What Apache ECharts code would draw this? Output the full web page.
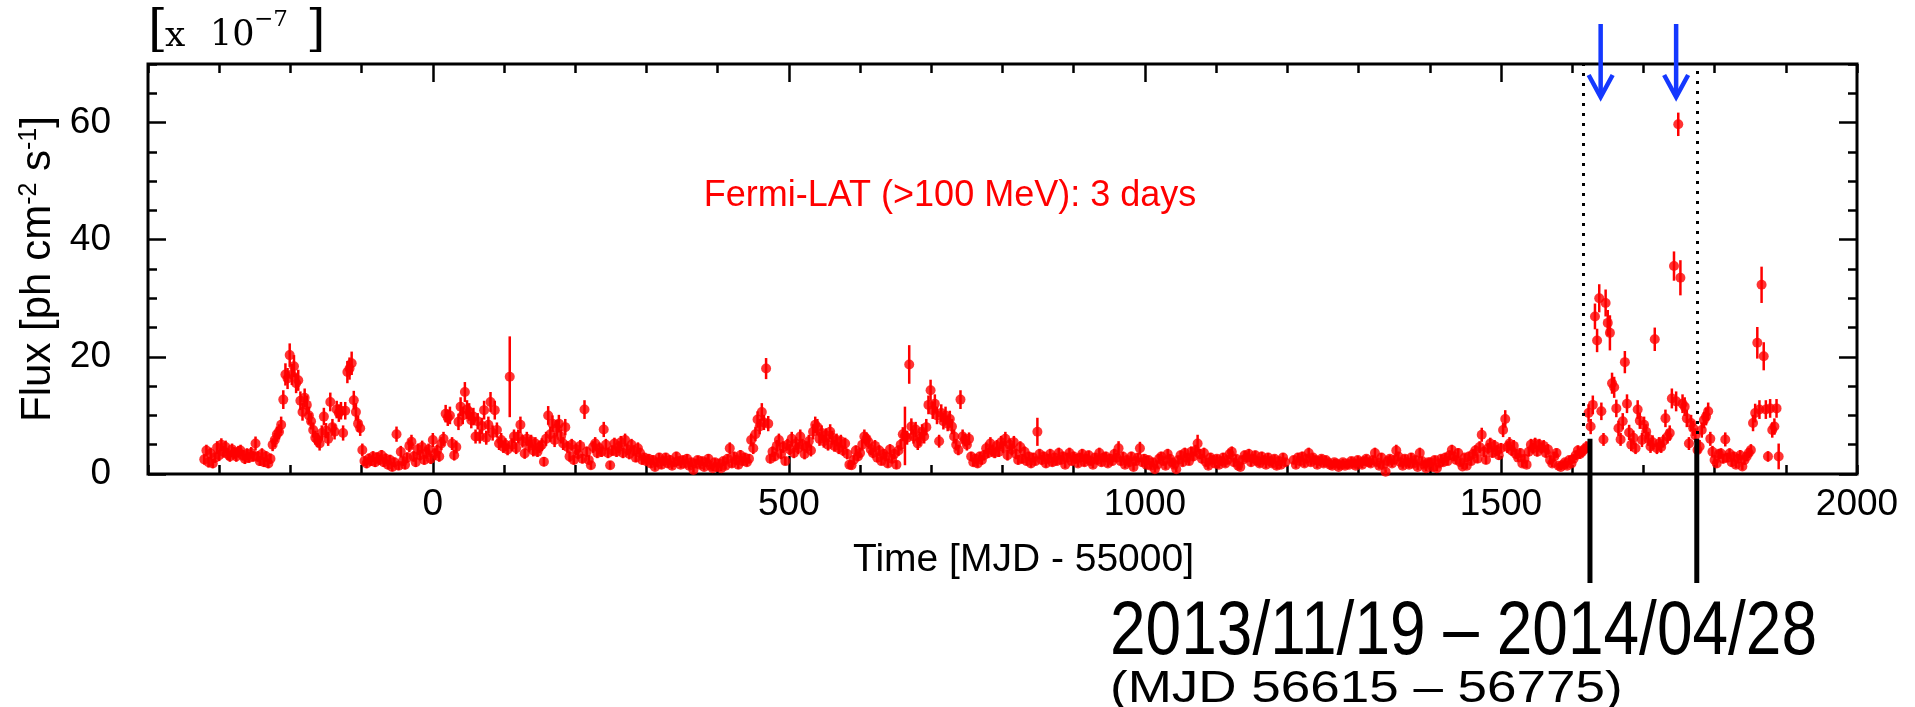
<!DOCTYPE html>
<html>
<head>
<meta charset="utf-8">
<title>Fermi-LAT (&gt;100 MeV) light curve, 3-day bins</title>
<script src="https://cdn.jsdelivr.net/npm/echarts@6.0.0/dist/echarts.min.js"></script>
<style>
html,body{margin:0;padding:0;background:#ffffff;}
#chart{width:1915px;height:707px;}
</style>
</head>
<body>
<div id="chart"></div>
<script>
// Time in MJD - 55000, flux in units of 1e-7 ph cm^-2 s^-1 (3-day bins)
const timeA = [-321,-318,-315,-312,-309,-306,-303,-300,-297,-294,-291,-288,-285,-282,-279,-276,-273,-270,-267,-264,-261,-258,-255,-252,-249,-246,-243,-240,-237,-234,-231,-228,-225,-222,-219,-216,-213,-210,-207,-204,-201,-198,-195,-192,-189,-186,-183,-180,-177,-174,-171,-168,-165,-162,-159,-156,-153,-150,-147,-144,-141,-138,-135,-132,-129,-126,-123,-120,-117,-114,-111,-108,-105,-102,-99];
const fluxA = [2.5,4.0,2.0,3.5,1.8,2.8,4.5,3.2,5.0,3.8, 4.6,3.4,3.0,4.2,3.6,3.0,3.8,4.0,3.2,2.6, 3.4,2.8,3.6,3.0,5.2,3.0,2.2,3.4,2.0,3.0, 1.8,2.6,5.0,5.8,6.8,7.2,8.4,12.7,17.0,16.3, 20.3,17.0,18.4,15.5,16.0,12.5,10.6,13.0,11.8,10.0, 9.0,7.5,6.2,5.8,5.2,7.0,9.8,7.4,6.0,12.3, 8.0,7.2,11.0,10.4,10.8,7.0,10.8,17.4,18.0,18.9, 12.6,10.6,8.6,7.8,4.1];
const errA = [0.9,1.0,0.9,1.0,0.8,0.9,1.1,1.0,1.1,1.0, 1.1,1.0,0.9,1.0,1.0,0.9,1.0,1.0,0.9,0.9, 1.0,0.9,1.0,0.9,1.2,0.9,0.8,1.0,0.8,0.9, 0.8,0.9,1.1,1.2,1.3,1.3,1.4,1.6,1.9,1.8, 2.0,1.8,1.9,1.7,1.8,1.6,1.5,1.6,1.6,1.5, 1.4,1.3,1.2,1.2,1.2,1.3,1.5,1.3,1.2,1.6, 1.4,1.3,1.5,1.5,1.5,1.3,1.5,1.9,1.9,2.0, 1.6,1.5,1.4,1.3,1.1];

const timeB = [-96,-93,-90,-87,-84,-81,-78,-75,-72,-69,-66,-63,-60,-57,-54,-51,-48,-45,-42,-39,-36,-33,-30,-27,-24,-21,-18,-15,-12,-9,-6,-3,0,3,6,9,12,15,18,21,24,27,30,33,36,39,42,45,48,51,54,57,60,63,66,69,72,75,78,81,84,87,90,93,96,99,102,105,108,111,114,117,120,123,126,129,132,135,138,141,144,147,150,153,156,159,162,165,168,171,174,177,180,183,186,189,192,195,198];
const fluxB = [2.2,1.8,2.6,2.2,3.0,2.0,2.8,2.4,3.2,2.0, 2.6,1.6,2.4,1.2,2.0,6.8,1.4,3.8,2.2,1.6, 2.8,4.8,5.5,3.0,2.0,4.2,3.2,4.6,2.4,3.6, 4.2,2.6,5.8,3.4,4.0,3.0,5.2,6.0,10.3,9.6, 10.0,5.2,3.2,4.6,8.9,11.5,10.0,14.0,11.0,10.6, 9.2,9.8,6.4,9.0,6.4,8.2,10.9,6.2,8.4,12.3, 7.0,10.9,7.5,5.2,5.8,4.6,5.0,4.2,16.6,5.0, 6.4,4.4,6.4,8.4,5.6,3.5,6.0,4.8,5.6,4.0, 5.2,3.8,4.6,5.0,2.1,6.0,10.0,6.8,8.6,5.8, 7.8,8.6,6.4,5.2,8.0,4.6,3.0,5.0,2.4];
const errB = [0.8,0.8,0.9,0.8,0.9,0.8,0.9,0.8,0.9,0.8, 0.9,0.8,0.9,0.7,0.8,1.3,0.7,1.0,0.8,0.8, 0.9,1.1,1.2,0.9,0.8,1.0,0.9,1.1,0.8,1.0, 1.0,0.9,1.2,1.0,1.0,0.9,1.1,1.2,1.5,1.4, 1.5,1.1,0.9,1.1,1.4,1.6,1.5,1.7,1.6,1.5, 1.4,1.5,1.2,1.4,1.2,1.4,1.6,1.2,1.4,1.7, 1.3,1.6,1.3,1.1,1.2,1.0,1.1,1.0,6.9,1.1, 1.2,1.0,1.2,1.4,1.1,0.9,1.2,1.1,1.1,1.0, 1.1,0.9,1.0,1.1,0.8,1.2,1.6,1.3,1.4,1.2, 1.4,1.5,1.2,1.1,1.4,1.0,0.9,1.0,0.8];

const timeC = [201,204,207,210,213,216,219,222,225,228,231,234,237,240,243,246,249,252,255,258,261,264,267,270,273,276,279,282,285,288,291,294,297,300,303,306,309,312,315,318,321,324,327,330,333,336,339,342,345,348,351,354,357,360,363,366,369,372,375,378,381,384,387,390,393,396,399,402,405,408,411,414,417,420,423,426,429,432,435,438,441,444,447,450,453,456,459,462,465,468,471,474,477,480,483,486,489,492,495,498];
const fluxC = [4.2,3.4,4.8,2.6,11.0,3.8,2.4,1.5,4.6,5.2, 3.6,4.4,3.8,7.6,5.0,3.6,1.5,4.0,5.2,3.8, 4.6,5.4,3.6,5.8,4.2,3.4,5.0,4.0,2.8,4.4, 3.6,2.4,2.8,2.2,2.6,1.8,2.4,1.2,2.0,2.8, 1.6,2.2,2.8,1.8,2.4,1.4,2.0,3.0,2.2,1.6, 2.4,1.8,2.6,1.4,2.0,0.7,1.8,2.4,1.6,2.2, 1.2,2.0,2.6,1.4,1.0,2.0,1.2,1.8,1.0,2.2, 1.4,2.6,4.4,1.8,3.0,2.4,1.6,3.2,2.2,2.8, 2.0,2.6,5.8,4.4,6.8,9.3,8.1,10.6,8.8,18.0, 8.6,2.6,3.8,3.0,4.8,5.8,3.4,4.6,2.2,5.0];
const errC = [1.0,0.9,1.0,0.8,1.6,0.9,0.8,0.7,1.0,1.1, 0.9,1.0,0.9,1.3,1.0,0.9,0.7,0.9,1.0,0.9, 1.0,1.1,0.9,1.1,1.0,0.9,1.0,0.9,0.8,1.0, 0.9,0.8,0.8,0.7,0.8,0.7,0.8,0.6,0.7,0.8, 0.7,0.7,0.8,0.7,0.8,0.6,0.7,0.8,0.7,0.6, 0.7,0.6,0.8,0.6,0.7,0.5,0.7,0.7,0.6,0.7, 0.6,0.7,0.8,0.6,0.5,0.7,0.6,0.7,0.5,0.7, 0.6,0.8,1.0,0.7,0.8,0.8,0.7,0.9,0.7,0.8, 0.7,0.8,1.1,1.0,1.2,1.4,1.3,1.5,1.3,1.8, 1.3,0.8,0.9,0.8,1.0,1.1,0.9,1.0,0.7,1.0];

const timeD = [501,504,507,510,513,516,519,522,525,528,531,534,537,540,543,546,549,552,555,558,561,564,567,570,573,576,579,582,585,588,591,594,597,600,603,606,609,612,615,618,621,624,627,630,633,636,639,642,645,648,651,654,657,660,663,666,669,672,675,678,681,684,687,690,693,696,699,702,705,708,711,714,717,720,723,726,729,732,735,738,741,744,747,750,753,756,759,762,765,768,771,774,777,780,783,786,789,792,795,798];
const fluxD = [4.2,6.0,3.6,5.2,4.4,6.4,5.0,3.4,4.6,5.6, 4.0,7.2,8.4,8.0,6.0,7.0,5.6,6.6,5.0,7.2, 6.2,4.8,5.8,4.4,5.6,4.0,5.2,3.4,1.6,1.5, 2.4,4.0,3.0,3.6,5.0,6.4,6.0,5.4,4.2,3.6, 4.8,2.8,4.0,2.2,3.4,3.0,1.8,4.2,2.6,3.4, 1.6,4.0,5.0,6.8,6.5,6.2,18.7,8.1,6.4,7.6, 5.2,6.0,7.2,6.4,8.0,11.8,14.3,10.9,12.0,10.0, 5.6,10.4,9.0,10.0,8.6,9.4,8.1,6.4,5.0,4.1, 12.7,6.4,5.8,5.0,6.0,3.0,2.0,2.6,1.8,3.0, 2.4,3.2,4.4,3.6,5.2,4.0,3.6,4.8,3.8,5.4];
const errD = [1.0,1.2,0.9,1.1,1.0,1.2,1.0,0.9,1.0,1.1, 1.0,1.3,1.4,1.4,1.2,1.3,1.1,1.2,1.0,1.3, 1.2,1.0,1.1,1.0,1.1,0.9,1.0,0.9,0.7,0.7, 0.8,0.9,0.8,0.9,1.0,1.2,1.1,1.1,1.0,0.9, 1.0,0.8,0.9,0.7,0.9,0.8,0.7,0.9,0.8,0.9, 0.7,0.9,1.0,1.2,5.0,1.2,3.3,1.4,1.2,1.3, 1.1,1.2,1.3,1.2,1.4,1.6,1.8,1.5,1.6,1.5, 1.1,1.5,1.4,1.5,1.3,1.4,1.3,1.2,1.0,0.9, 1.6,1.2,1.1,1.0,1.1,0.8,0.7,0.8,0.7,0.8, 0.8,0.9,1.0,0.9,1.1,1.0,0.9,1.0,0.9,1.1];

const timeE = [801,804,807,810,813,816,819,822,825,828,831,834,837,840,843,846,849,852,855,858,861,864,867,870,873,876,879,882,885,888,891,894,897,900,903,906,909,912,915,918,921,924,927,930,933,936,939,942,945,948,951,954,957,960,963,966,969,972,975,978,981,984,987,990,993,996,999,1002,1005,1008,1011,1014,1017,1020,1023,1026,1029,1032,1035,1038,1041,1044,1047,1050,1053,1056,1059,1062,1065,1068,1071,1074,1077,1080,1083,1086,1089,1092,1095,1098];
const fluxE = [4.6,6.0,3.2,5.0,4.2,5.4,3.4,2.4,4.6,2.6, 3.8,2.2,3.0,1.8,2.8,2.2,7.2,3.4,2.4,3.0, 1.8,2.6,3.4,2.0,2.8,2.2,3.6,2.4,3.0,1.6, 2.8,3.6,2.2,3.0,2.6,1.8,2.8,3.4,2.0,2.6, 3.2,2.2,1.6,2.8,2.4,3.6,2.0,2.8,3.0,1.8, 2.6,2.2,3.4,2.8,4.4,2.2,3.0,1.6,2.4,2.0, 3.0,1.2,2.2,2.8,4.4,2.0,2.6,1.6,2.4,1.4, 2.0,0.8,1.6,2.6,3.0,2.2,1.4,3.4,2.6,2.0, 1.6,0.8,2.4,3.2,2.0,3.6,2.8,2.2,3.8,3.0, 4.0,5.2,3.4,2.6,3.6,2.0,1.4,2.8,2.4,1.8];
const errE = [1.0,1.2,0.9,1.1,1.0,1.1,0.9,0.8,1.0,0.8, 0.9,0.7,0.8,0.7,0.8,0.7,2.4,0.9,0.8,0.8, 0.7,0.8,0.9,0.7,0.8,0.7,0.9,0.7,0.8,0.6, 0.8,0.9,0.7,0.8,0.8,0.6,0.8,0.9,0.7,0.8, 0.8,0.7,0.6,0.8,0.7,0.9,0.7,0.8,0.8,0.6, 0.8,0.7,0.9,0.8,1.2,0.7,0.8,0.6,0.7,0.7, 0.8,0.6,0.7,0.8,1.1,0.7,0.8,0.6,0.7,0.6, 0.7,0.5,0.6,0.8,0.8,0.7,0.6,0.9,0.8,0.7, 0.6,0.5,0.7,0.8,0.7,0.9,0.8,0.7,0.9,0.8, 1.0,1.5,0.9,0.8,0.9,0.7,0.6,0.8,0.7,0.7];

const timeF1 = [1101,1104,1107,1110,1113,1116,1119,1122,1125,1128,1131,1134,1137,1140,1143,1146,1149,1152,1155,1158,1161,1164,1167,1170,1173,1176,1179,1182,1185,1188,1191,1194,1197];
const fluxF1 = [2.6,1.6,2.2,2.8,1.8,2.4,3.4,3.8,2.0,2.6, 1.4,1.2,2.4,3.2,2.8,3.4,2.0,2.6,3.2,2.2, 1.8,3.0,2.4,1.6,2.8,2.2,1.8,2.6,1.4,2.2, 1.6,2.8,2.0];
const errF1 = [0.7,0.6,0.7,0.8,0.6,0.7,0.9,0.9,0.7,0.7, 0.6,0.5,0.7,0.8,0.8,0.9,0.7,0.7,0.8,0.7, 0.6,0.8,0.7,0.6,0.8,0.7,0.6,0.7,0.6,0.7, 0.6,0.8,0.7];

const timeF2 = [1209,1212,1215,1218,1221,1224,1227,1230,1233,1236,1239,1242,1245,1248,1251,1254,1257,1260,1263,1266,1269,1272,1275,1278,1281,1284,1287,1290,1293,1296,1299,1302,1305,1308,1311,1314,1317,1320,1323,1326,1329,1332,1335,1338,1341,1344,1347,1350,1353,1356,1359,1362,1365,1368,1371,1374,1377,1380,1383,1386,1389,1392,1395,1398];
const fluxF2 = [2.4,1.6,2.8,2.2,3.0,1.8,2.6,3.6,2.0,2.8, 2.4,1.6,2.2,2.6,1.8,2.4,2.0,1.6,1.4,2.0, 1.8,1.2,1.6,2.0,1.4,1.8,1.6,2.2,1.8,1.4, 2.4,2.0,1.6,2.2,2.6,2.0,1.8,2.4,3.6,2.0, 1.4,2.8,1.6,0.4,2.2,2.6,1.8,2.4,4.0,3.0, 2.0,1.4,2.6,2.0,1.6,2.8,1.8,2.4,1.2,3.6, 2.2,1.6,1.0,2.0];
const errF2 = [0.7,0.6,0.8,0.7,0.8,0.6,0.7,0.9,0.6,0.7, 0.7,0.6,0.7,0.7,0.6,0.7,0.6,0.6,0.5,0.6, 0.6,0.5,0.6,0.6,0.5,0.6,0.6,0.7,0.6,0.5, 0.7,0.6,0.6,0.7,0.7,0.6,0.6,0.7,0.9,0.6, 0.5,0.8,0.6,0.4,0.7,0.7,0.6,0.7,1.0,0.8, 0.6,0.5,0.7,0.6,0.6,0.8,0.6,0.7,0.5,0.9, 0.7,0.6,0.5,0.6];

const timeG = [1401,1404,1407,1410,1413,1416,1419,1422,1425,1428,1431,1434,1437,1440,1443,1446,1449,1452,1455,1458,1461,1464,1467,1470,1473,1476,1479,1482,1485,1488,1491,1494,1497,1500,1503,1506,1509,1512,1515,1518,1521,1524,1527,1530,1533,1536,1539,1542,1545,1548,1551,1554,1557,1560,1563,1566,1569,1572,1575,1578,1581,1584,1587,1590,1593,1596,1599,1602,1605,1608,1611,1614,1617,1620,1623,1626,1629,1632,1635,1638,1641,1644,1647,1650,1653,1656,1659,1662,1665,1668,1671,1674,1677,1680,1683,1686,1689,1692,1695,1698,1701,1704,1707,1710,1713,1716,1719,1722,1725,1728,1731,1734,1737,1740,1743,1746,1749,1752,1755,1758,1761,1764,1767,1770,1773,1776,1779,1782,1785,1788,1791,1794,1797,1800,1803,1806,1809,1812,1815,1818,1821,1824,1827,1830,1833,1836,1839,1842,1845,1848,1851,1854,1857,1860,1863,1866,1869,1872,1875,1878,1881,1884,1887,1890];
const fluxG = [2.0,1.2,2.4,1.0,1.8,2.6,2.0,2.8,2.2,3.2, 4.1,3.0,2.4,3.6,2.0,1.3,2.8,1.4,3.0,2.2, 3.4,4.0,2.6,4.6,6.7,3.8,2.4,4.4,5.2,3.6, 4.8,4.0,3.2,4.4,7.5,9.4,4.6,5.2,4.0,4.8, 3.4,2.8,3.6,1.8,2.6,1.6,3.8,5.0,4.4,5.2, 3.8,5.0,4.4,4.8,3.6,4.2,2.4,1.8,3.0,3.6, 1.4,1.2,1.6,2.0,1.4,2.4,1.8,2.6,3.2,4.0, 3.4,3.8,4.2,4.6,10.4,8.1,11.8,26.9,22.8,30.0, 10.7,5.9,29.2,25.8,24.1,15.5,14.8,11.2,7.8,5.9, 9.0,19.1,12.0,7.1,5.0,6.2,4.4,11.0,9.1,5.8, 8.4,7.2,6.0,4.7,5.4,23.0,4.4,5.2,4.6,5.6, 9.5,6.4,7.0,12.9,35.5,12.4,59.7,33.5,12.0,11.5, 9.5,5.2,8.7,7.8,6.6,4.1,4.7,7.5,9.2,9.8, 10.7,6.0,3.8,2.4,1.8,3.4,3.5,2.6,5.9,2.8, 3.5,2.0,3.0,1.6,2.6,3.2,1.3,2.4,3.0,3.6, 4.1,8.7,10.4,22.4,11.0,32.3,20.1,11.0,3.0,11.2, 7.5,8.1,11.2,3.0];
const errG = [0.7,0.6,0.7,0.5,0.6,0.7,0.6,0.8,0.7,0.8, 0.9,0.8,0.7,0.8,0.6,0.5,0.7,0.5,0.8,0.7, 0.8,0.9,0.7,1.0,1.2,0.9,0.7,0.9,1.0,0.8, 1.0,0.9,0.8,0.9,1.2,1.5,1.0,1.1,0.9,1.0, 0.8,0.7,0.8,0.6,0.7,0.6,0.8,1.0,0.9,1.0, 0.8,1.0,0.9,1.0,0.8,0.9,0.7,0.6,0.8,0.8, 0.5,0.5,0.6,0.6,0.5,0.7,0.6,0.7,0.8,0.9, 0.8,0.9,0.9,1.0,1.5,1.3,1.6,2.2,2.0,2.4, 1.5,1.1,2.3,2.2,3.0,1.8,1.8,1.5,1.3,1.1, 1.4,1.9,1.6,1.3,1.1,1.2,1.0,1.6,1.4,1.2, 1.4,1.3,1.2,1.1,1.2,2.0,1.0,1.1,1.0,1.1, 1.5,1.2,1.3,1.7,2.5,1.7,2.0,3.0,1.6,1.6, 1.5,1.1,1.4,1.3,1.2,1.0,1.1,1.3,1.4,1.5, 1.5,1.2,1.0,0.8,0.7,0.9,0.9,0.8,1.2,0.8, 0.9,0.7,0.8,0.6,0.8,0.9,0.6,0.8,0.8,0.9, 1.0,1.4,1.6,2.7,1.6,3.1,2.4,1.6,0.9,1.6, 1.3,1.4,1.6,2.2];

// axis ticks / labels
const xMajorTicks = [0, 500, 1000, 1500];
const xTickLabels = [0, 500, 1000, 1500, 2000];
const yMajorTicks = [0, 20, 40, 60];
const yTickLabels = [0, 20, 40, 60];
// annotations (MJD - 55000)
const windowEdges = [1615, 1775];      // MJD 56615 – 56775 (dotted)
const markerLines = [1625, 1775];      // black bars below the axis
const flareArrows = [1640, 1746];      // blue arrows

const RED = '#ff0000';
const BLUE = '#1438ff';
const SANS = 'Liberation Sans';
const segments = [[timeA,fluxA,errA],[timeB,fluxB,errB],[timeC,fluxC,errC],[timeD,fluxD,errD],[timeE,fluxE,errE],[timeF1,fluxF1,errF1],[timeF2,fluxF2,errF2],[timeG,fluxG,errG]];
const points = [];
segments.forEach(function (s) { s[0].forEach(function (t, i) { points.push([t, s[1][i], s[2][i]]); }); });

const tickLine = {color: '#000', width: 2.5};
const plainNumber = function (v) { return String(v); };
function xAxisDef(pos, major) {
  const a = {
    type: 'value', min: -400, max: 2000, position: pos,
    axisLine: {show: false, onZero: false}, splitLine: {show: false},
    axisTick: {show: true, inside: true, length: major ? 18 : 9, lineStyle: tickLine},
    axisLabel: {show: false}
  };
  if (major) a.axisTick.customValues = xMajorTicks; else a.interval = 100;
  return a;
}
function yAxisDef(pos, major) {
  const a = {
    type: 'value', min: 0, max: 70, position: pos,
    axisLine: {show: false, onZero: false}, splitLine: {show: false},
    axisTick: {show: true, inside: true, length: major ? 18 : 9, lineStyle: tickLine},
    axisLabel: {show: false}
  };
  if (major) a.axisTick.customValues = yMajorTicks; else a.interval = 5;
  return a;
}
const xBottom = xAxisDef('bottom', true);
xBottom.axisLabel = {show: true, customValues: xTickLabels, formatter: plainNumber, margin: 12, fontSize: 37, fontFamily: SANS, color: '#000'};
xBottom.name = 'Time [MJD - 55000]';
xBottom.nameLocation = 'middle';
xBottom.nameGap = 67;
xBottom.nameTextStyle = {fontSize: 39, fontFamily: SANS, color: '#000', padding: [0, 0, 0, 42]};

const yLeft = yAxisDef('left', true);
yLeft.axisLabel = {show: true, customValues: yTickLabels, formatter: plainNumber, margin: 37, fontSize: 37, fontFamily: SANS, color: '#000'};
yLeft.name = '{a|Flux [ph cm}{s|-2}{a| s}{s|-1}{a|]}';
yLeft.nameLocation = 'middle';
yLeft.nameRotate = 90;
yLeft.nameGap = 89;
yLeft.nameTextStyle = {rich: {
  a: {fontSize: 42, fontFamily: SANS, color: '#000'},
  s: {fontSize: 25, fontFamily: SANS, color: '#000', verticalAlign: 'top'}
}};

const option = {
  animation: false,
  backgroundColor: '#ffffff',
  grid: {left: 148, right: 58, top: 64, bottom: 233, show: true, borderColor: '#000', borderWidth: 3, backgroundColor: 'transparent', containLabel: false},
  xAxis: [xBottom, xAxisDef('bottom', false), xAxisDef('top', true), xAxisDef('top', false)],
  yAxis: [yLeft, yAxisDef('left', false), yAxisDef('right', true), yAxisDef('right', false)],
  series: [
    {
      type: 'custom', name: 'error', xAxisIndex: 0, yAxisIndex: 0, silent: true, z: 2,
      data: points, encode: {x: 0, y: 1},
      renderItem: function (params, api) {
        const x = api.value(0), y = api.value(1), e = api.value(2);
        const p1 = api.coord([x, y - e]), p2 = api.coord([x, y + e]);
        return {type: 'line', shape: {x1: p1[0], y1: p1[1], x2: p2[0], y2: p2[1]}, style: {stroke: RED, lineWidth: 2.5}};
      }
    },
    {
      type: 'scatter', name: 'Fermi-LAT (>100 MeV): 3 days', xAxisIndex: 0, yAxisIndex: 0, z: 3,
      data: points.map(function (p) { return [p[0], p[1]]; }),
      symbol: 'circle', symbolSize: 10, itemStyle: {color: RED},
      markLine: {
        silent: true, symbol: 'none', label: {show: false},
        lineStyle: {color: '#000', width: 3, type: [3, 7]},
        data: [
          [{coord: [windowEdges[0], 6.5]}, {coord: [windowEdges[0], 70]}],
          [{coord: [windowEdges[1], 0]}, {coord: [windowEdges[1], 70]}]
        ]
      }
    }
  ]
};
const chart = echarts.init(document.getElementById('chart'));
chart.setOption(option);

const px = function (t) { return chart.convertToPixel({xAxisIndex: 0}, t); };
const py = function (f) { return chart.convertToPixel({yAxisIndex: 0}, f); };
const g = [];
markerLines.forEach(function (t) {
  const x = px(t);
  g.push({type: 'line', z: 50, shape: {x1: x, y1: py(6), x2: x, y2: 583}, style: {stroke: '#000', lineWidth: 5}});
});
flareArrows.forEach(function (t) {
  const x = px(t);
  g.push({type: 'line', z: 50, shape: {x1: x, y1: 24, x2: x, y2: 95}, style: {stroke: BLUE, lineWidth: 4.5}});
  g.push({type: 'polyline', z: 50, shape: {points: [[x - 12, 75], [x, 97], [x + 12, 75]]}, style: {stroke: BLUE, lineWidth: 4.5, fill: null}});
});
// "[x 10^-7 ]" scale factor
g.push({type: 'text', z: 50, x: 148, y: 32, style: {text: '[', fontSize: 50, fontFamily: 'DejaVu Serif', fill: '#000', align: 'left', verticalAlign: 'middle'}});
g.push({type: 'text', z: 50, x: 165, y: 37, style: {text: 'x', fontSize: 36, fontFamily: 'DejaVu Serif', fill: '#000', align: 'left', verticalAlign: 'middle'}});
g.push({type: 'text', z: 50, x: 210, y: 36, style: {text: '10', fontSize: 35, fontFamily: 'DejaVu Serif', fill: '#000', align: 'left', verticalAlign: 'middle'}});
g.push({type: 'text', z: 50, x: 254, y: 20, style: {text: '\u22127', fontSize: 23, fontFamily: 'DejaVu Serif', fill: '#000', align: 'left', verticalAlign: 'middle'}});
g.push({type: 'text', z: 50, x: 306, y: 32, style: {text: ']', fontSize: 50, fontFamily: 'DejaVu Serif', fill: '#000', align: 'left', verticalAlign: 'middle'}});
// in-plot label
g.push({type: 'text', z: 50, x: 950, y: 196, style: {text: 'Fermi-LAT (>100 MeV): 3 days', fontSize: 36, fontFamily: SANS, fill: RED, align: 'center', verticalAlign: 'middle'}});
// date annotation
g.push({type: 'text', z: 50, x: 1110, y: 633, scaleY: 1.2, style: {text: '2013/11/19 \u2013 2014/04/28', fontSize: 64, fontFamily: SANS, fill: '#000', align: 'left', verticalAlign: 'middle'}});
g.push({type: 'text', z: 50, x: 1110, y: 690, scaleY: 0.85, style: {text: '(MJD 56615 \u2013 56775)', fontSize: 53, fontFamily: SANS, fill: '#000', align: 'left', verticalAlign: 'middle'}});
chart.setOption({graphic: g});
</script>
</body>
</html>
